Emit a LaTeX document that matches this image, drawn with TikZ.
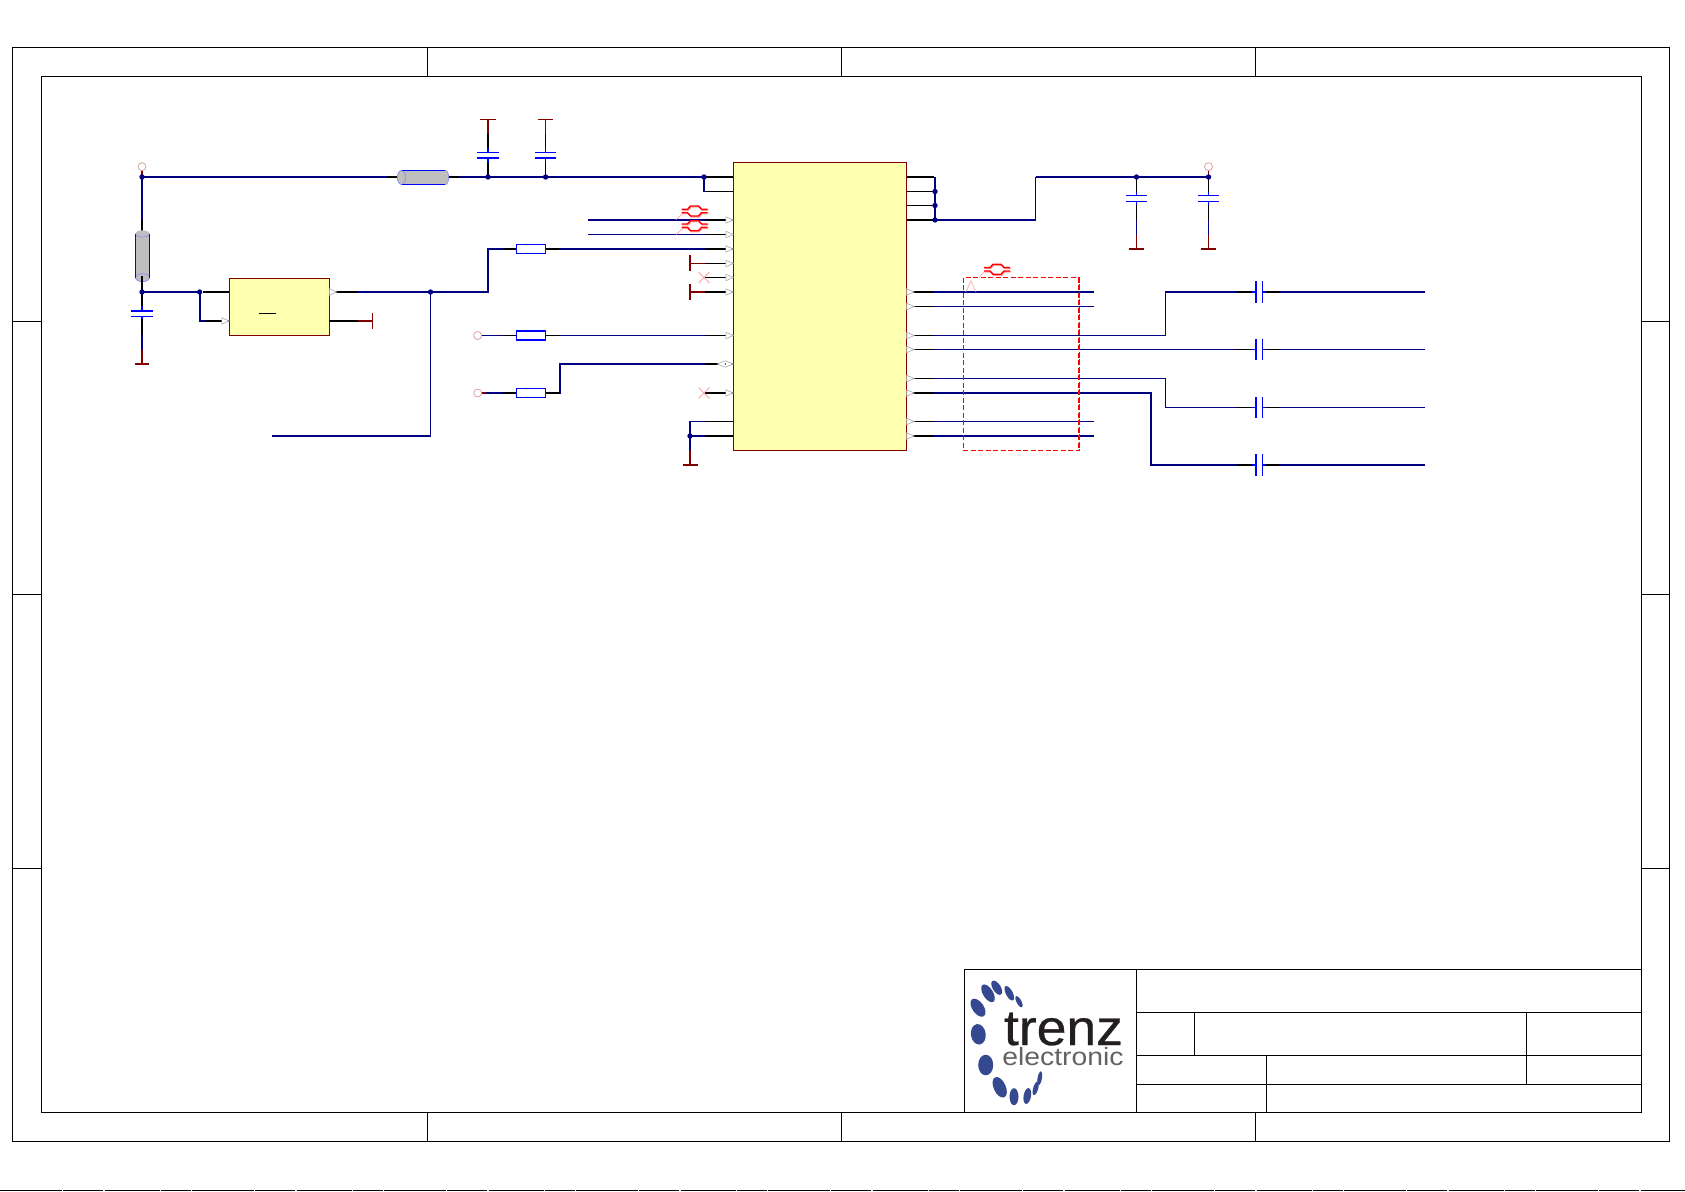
\documentclass[tikz,border=0pt]{standalone}
\usepackage{fontspec}
\setmainfont{Liberation Sans}
\newfontfamily\logofont[FakeBold=0.6]{Liberation Sans}
\usetikzlibrary{calc}
\definecolor{netc}{HTML}{000080}
\definecolor{dred}{HTML}{800000}
\definecolor{partb}{HTML}{0000FF}
\definecolor{paleb}{HTML}{8C8CFF}
\definecolor{pinkc}{HTML}{FFA8A8}
\definecolor{pwrc}{HTML}{E0A0A0}
\definecolor{boxy}{HTML}{FFFFB0}
\definecolor{beadg}{HTML}{BFBFBF}
\definecolor{logob}{HTML}{34498F}
\definecolor{logot}{HTML}{231F20}
\tikzset{
  frameline/.style={black,line width=1pt},
  nthick/.style={netc,line width=2pt},
  nthin/.style={netc,line width=1pt},
  lthick/.style={black,line width=2pt},
  lthin/.style={black,line width=1pt},
  icbox/.style={draw=dred,line width=1pt,fill=boxy,inner sep=0pt,outer sep=0pt},
  resbox/.style={draw=partb,line width=1.3pt,fill=white,minimum width=29pt,minimum height=9pt,inner sep=0pt,outer sep=0pt},
  pwrdot/.style={circle,draw=pwrc,line width=.8pt,fill=white,minimum size=8pt,inner sep=0pt,outer sep=0pt},
  pics/pinin/.style={code={\draw[gray!70,line width=.6pt,fill=white] (-7.5,-3.2) -- (0,0) -- (-7.5,3.2) -- cycle;}},
  pics/pinout/.style={code={\draw[gray!70,line width=.6pt,fill=white] (0,-3.2) -- (7.5,0) -- (0,3.2) -- cycle;}},
  pics/pinback/.style={code={\draw[gray!70,line width=.6pt,fill=white] (0,0) -- (-7.5,-3.2) -- (-7.5,3.2) -- cycle;}},
  pics/pinboth/.style={code={\draw[gray!70,line width=.6pt,fill=white] (-16,0) -- (-8,-3.2) -- (0,0) -- (-8,3.2) -- cycle; \fill[black] (-8,0) circle[radius=.8pt];}},
  pics/junc/.style={code={\fill[netc] (0,0) circle[radius=2.7pt];}},
  pics/nocon/.style={code={\draw[pinkc,line width=.8pt] (-5.5,-5.5) -- (5.5,5.5) (-5.5,5.5) -- (5.5,-5.5);}},
  pics/diffpair/.style={code={
    \foreach \dx/\dy/\c in {.8/.9/pinkc,0/0/red}{
      \begin{scope}[shift={(\dx,\dy)}]
      \draw[\c,line width=1.4pt] (-13,-1.7) -- (-7,-1.7) -- (-4,-5) -- (4,-5) -- (7,-1.7) -- (13,-1.7);
      \draw[\c,line width=1.4pt] (-13,1.7) -- (-7,1.7) -- (-4,5) -- (4,5) -- (7,1.7) -- (13,1.7);
      \end{scope}}
  }},
}
\begin{document}
\begin{tikzpicture}[x=1pt,y=-1pt]
\useasboundingbox (0,0) rectangle (1685,1191);
\fill[white] (0,0) rectangle (1685,1191);

% ---- sheet frame
\draw[frameline] (12.5,47.5) rectangle (1669.5,1141.5);
\draw[frameline] (41.5,76.5) rectangle (1641.5,1112.5);
\foreach \x in {427.5,841.5,1255.5}{
  \draw[frameline] (\x,47.5) -- (\x,76.5);
  \draw[frameline] (\x,1112.5) -- (\x,1141.5);
}
\foreach \y in {321.5,594.5,868.5}{
  \draw[frameline] (12.5,\y) -- (41.5,\y);
  \draw[frameline] (1641.5,\y) -- (1669.5,\y);
}
% ---- title block
\draw[frameline] (964.5,969.5) rectangle (1641.5,1112.5);
\draw[frameline] (1136.5,969.5) -- (1136.5,1112.5);
\draw[frameline] (1136.5,1012.5) -- (1641.5,1012.5);
\draw[frameline] (1136.5,1055.5) -- (1641.5,1055.5);
\draw[frameline] (1136.5,1084.5) -- (1641.5,1084.5);
\draw[frameline] (1194.5,1012.5) -- (1194.5,1055.5);
\draw[frameline] (1526.5,1012.5) -- (1526.5,1084.5);
\draw[frameline] (1266.5,1055.5) -- (1266.5,1112.5);
% logo
\foreach \x/\y/\r/\a/\b in {978/1007.7/-55/10.3/5.7, 988/993.3/-58/10/5, 996.7/987.7/-58/8/4, 1009.3/993.3/-62/8/3.4, 1019/1001.7/-62/6.5/2.4,
  978.3/1034.3/-82/10.3/7.4, 985.7/1065/-90/10.3/7.5, 999.7/1087.3/-65/11/6, 1014/1096.7/-90/8.5/4.5, 1027.3/1096/-100/8/3.7, 1035.7/1088.3/-106/7/2.5, 1039.7/1078.3/-100/7/2.2}{
  \fill[logob,shift={(\x,\y)},rotate=\r] (0,0) ellipse[x radius=\a pt,y radius=\b pt];
}
\node[anchor=base west,inner sep=0pt,outer sep=0pt,text=logot,font=\logofont\fontsize{50}{50}\selectfont] (logoa) at (1004,1045) {\scalebox{1.07}[1]{trenz}};
\node[anchor=base west,inner sep=0pt,outer sep=0pt,text=logot!70,font=\fontsize{24}{24}\selectfont] (logob) at (1002.3,1065.7) {\scalebox{1.18}[1.04]{electronic}};

% ---- page-edge line
\draw[black,line width=1pt,dash pattern=on 62pt off 1pt on 40pt off 1.5pt on 55pt off 1pt on 30pt off 1.5pt] (0,1190.5) -- (1685,1190.5);

% ---- named pin rows
\foreach \r/\yy in {1/177,2/191.5,3/205.5,4/220,5/234.5,6/249,7/263.5,8/277.5,9/292,10/306.5,11/321,12/335.5,13/349.5,14/364,15/378.5,16/393,17/407.5,18/421.5,19/436,20/450.5,21/465}{
  \coordinate (L\r) at (733.3,\yy);
  \coordinate (Lo\r) at (705,\yy);
  \coordinate (R\r) at (906.7,\yy);
  \coordinate (Ro\r) at (934,\yy);
}
\coordinate (JA) at (142,177);
\coordinate (JB) at (142,292);
\coordinate (JC) at (199.6,292);
\coordinate (JD) at (430.5,292);
\coordinate (JE) at (488,177);
\coordinate (JF) at (545.6,177);
\coordinate (JG) at (704,177);
\coordinate (JH) at (690,436);
\coordinate (JI) at (935,191.5);
\coordinate (JJ) at (935,205.5);
\coordinate (JK) at (935,220);
\coordinate (JL) at (1136.5,177);
\coordinate (JM) at (1208.5,177);
\coordinate (C1) at (1259,292);
\coordinate (C2) at (1259,349.5);
\coordinate (C3) at (1259,407.5);
\coordinate (C4) at (1259,465);
\coordinate (E1) at (1425,292);
\coordinate (E2) at (1425,349.5);
\coordinate (E3) at (1425,407.5);
\coordinate (E4) at (1425,465);
\coordinate (F1) at (1093.7,292);
\coordinate (F2) at (1093.7,306.5);
\coordinate (F3) at (1093.7,421.5);
\coordinate (F4) at (1093.7,436);
\coordinate (G1) at (588.4,220);
\coordinate (G2) at (588.4,234.5);
\coordinate (H1) at (271.6,436);
\coordinate (H2) at (430.5,436);
\coordinate (UA) at (229.3,292);
\coordinate (UB) at (229.3,321);
\coordinate (UC) at (329.3,292);
\coordinate (UD) at (329.3,321);

% ---- resistors, boxes, power points
\node[icbox,minimum width=173.4pt,minimum height=288pt] (U1) at (820,306.3) {};
\node[icbox,minimum width=100pt,minimum height=57pt] (U2) at (279.3,306.8) {};
\node[pwrdot] (P1) at (142,166.7) {};
\node[pwrdot] (P2) at (1208.5,166.7) {};
\node[pwrdot] (P3) at (477.7,335.5) {};
\node[pwrdot] (P4) at (477.7,393) {};
\draw[black,line width=1pt] (259.3,313.5) -- (276,313.5);

% ---- nets
\draw[nthick] (JA) -- (Lo1);
\draw[nthick] (JG) -- (704,191.5);
\draw[nthick] (JA) -- (142,222);
\draw[nthick] (JB) -- (JC);
\draw[nthick] (JC) -- (199.6,321) -- (206,321);
\draw[nthick] (358,292) -- (JD) -- (488,292) -- (488,249) -- (504,249);
\draw[nthick] (559.4,249) -- (Lo6);
\draw[nthin] (JD) -- (H2);
\draw[nthick] (H2) -- (H1);
\draw[nthick] (G1) -- (Lo4);
\draw[nthin] (G2) -- (Lo5);
\draw[nthin] (P3) -- (503,335.5);
\draw[nthin] (559.4,335.5) -- (Lo12);
\draw[nthick] (P4) -- (503,393);
\draw[nthick,line join=miter] (558.5,393) -- (559.6,393) -- (559.6,364) -- (Lo14);
\draw[nthick] (690,421) -- (690,450);
\draw[nthin] (690,421.5) -- (Lo18);
\draw[nthick] (JH) -- (Lo19);
% right side
\draw[line width=2.2pt,netc] (935,177) -- (JK);
\draw[nthick] (JK) -- (1035.5,220);
\draw[netc,line width=1.3pt] (1035.5,220) -- (1035.5,177);
\draw[nthick] (1035.5,177) -- (JM);
\draw[nthick] (Ro9) -- (F1);
\draw[nthin] (Ro10) -- (F2);
\draw[nthick] (Ro19) -- (F4);
\draw[nthin] (Ro18) -- (F3);
\draw[nthin] (Ro12) -- (1165.5,335.5) -- (1165.5,292);
\draw[nthick] (1165,292) -- (1237,292);
\draw[nthin] (Ro13) -- (1237,349.5);
\draw[nthin] (Ro15) -- (1165.5,378.5) -- (1165.5,407.5) -- (1237,407.5);
\draw[nthick] (Ro16) -- (1151,393) -- (1151,465) -- (1237,465);
\draw[nthick] (1280,292) -- (E1);
\draw[nthin] (1280,349.5) -- (E2);
\draw[nthin] (1280,407.5) -- (E3);
\draw[nthick] (1280,465) -- (E4);

% ---- black part leads
\foreach \r/\w in {1/2,2/1,4/2,5/1,6/2,7/1,8/1,9/2,12/1,18/1,19/2}{
  \draw[black,line width=\w pt] (Lo\r) -- (L\r);
}
\draw[lthick] (Lo14) -- (L14);
\draw[lthick] (704,393) -- (L16);
\foreach \r/\w in {1/2,2/1,3/1,4/2,9/2,10/1,12/1,13/1,15/1,16/2,18/1,19/2}{
  \draw[black,line width=\w pt] (R\r) -- (Ro\r);
}
\draw[lthick] (387,177) -- (398,177);
\draw[lthick] (448,177) -- (459,177);
\draw[lthick] (142,220) -- (142,232);
\draw[lthick] (142,276) -- (142,306);
\draw[lthick] (203,292) -- (UA);
\draw[lthick] (206,321) -- (UB);
\draw[lthick] (UC) -- (358,292);
\draw[lthick] (UD) -- (358,321);
\draw[dred,line width=2pt] (358,321) -- (372,321);
\draw[dred,line width=1pt] (372.5,313.3) -- (372.5,329);
\draw[lthick] (504,249) -- (518,249);
\draw[lthick] (544,249) -- (559.4,249);
\draw[lthin] (503,335.5) -- (518,335.5);
\draw[lthin] (544,335.5) -- (559.4,335.5);
\draw[lthick] (503,393) -- (518,393);
\draw[lthick] (544,393) -- (559.6,393);
\draw[dred,line width=2pt] (P4.east) -- (486,393);
\node[resbox] (R1) at (531.2,249) {};
\node[resbox] (R2) at (531.2,335.5) {};
\node[resbox] (R3) at (531.2,393) {};

% ---- grounded pins, no-connects
\draw[dred,line width=1pt] (690,263.5) -- (705,263.5);
\draw[dred,line width=1.4pt] (690,255.4) -- (690,271.2);
\draw[dred,line width=2pt] (690,292) -- (705,292);
\draw[dred,line width=1.4pt] (690,284.2) -- (690,300);
\pic at (704,277.5) {nocon};
\pic at (704,393) {nocon};
\draw[dred,line width=2pt] (690,450) -- (690,465);
\draw[dred,line width=2pt] (682.5,465) -- (697.5,465);

% ---- bead 1 (horizontal)
\fill[beadg] (401.5,170.5) rectangle (445.3,184.5);
\fill[beadg] (445.3,177.5) ellipse[x radius=3.4pt,y radius=7pt];
\draw[paleb,line width=.7pt,fill=beadg] (401.5,177.5) ellipse[x radius=4.2pt,y radius=7pt];
\draw[paleb,line width=.7pt] (445.3,170.5) arc[start angle=-90,end angle=90,x radius=3.4pt,y radius=-7pt];
\draw[partb,line width=1pt] (401.5,170.5) -- (445.3,170.5) (401.5,184.5) -- (445.3,184.5);
% ---- bead 2 (vertical)
\fill[beadg] (135.5,233.7) rectangle (149.5,277.7);
\fill[beadg] (142.5,233.7) ellipse[x radius=7pt,y radius=3.4pt];
\draw[paleb,line width=.7pt] (135.5,233.7) arc[start angle=180,end angle=0,x radius=7pt,y radius=-3.4pt];
\draw[paleb,line width=.7pt,fill=beadg] (142.5,277.7) ellipse[x radius=7pt,y radius=4pt];
\draw[partb,line width=1pt] (135.5,233.7) -- (135.5,277.7) (149.5,233.7) -- (149.5,277.7);
\draw[lthick] (142,276) -- (142,281.7);

% ---- capacitors to the top rail
\foreach \x/\w in {488/2,545.5/1}{
  \draw[dred,line width=\w pt] (\x,119.5) -- (\x,134);
  \draw[black,line width=\w pt] (\x,134) -- (\x,148);
  \draw[partb,line width=\w pt] (\x,148) -- (\x,152.5);
  \draw[partb,line width=\w pt] (\x,157.7) -- (\x,163);
  \draw[black,line width=\w pt] (\x,163) -- (\x,177);
  \draw[dred,line width=1pt] (\x-7.7,119.5) -- (\x+7.7,119.5);
  \draw[partb,line width=1pt] (\x-10.7,152.5) -- (\x+10.7,152.5);
  \draw[partb,line width=2pt] (\x-10.7,158) -- (\x+10.7,158);
}
% ---- capacitor at the regulator input
\draw[partb,line width=2pt] (142,306) -- (142,311);
\draw[partb,line width=2pt] (142,316) -- (142,319);
\draw[black,line width=2pt] (142,319) -- (142,335);
\draw[netc,line width=2pt] (142,335) -- (142,350);
\draw[dred,line width=2pt] (142,350) -- (142,364);
\draw[dred,line width=2pt] (135,364) -- (149,364);
\draw[partb,line width=2pt] (131.3,311) -- (152.7,311);
\draw[partb,line width=1pt] (131.3,316.5) -- (152.7,316.5);
% ---- output capacitors
\foreach \x in {1136.5,1208.5}{
  \draw[lthin] (\x,177) -- (\x,192);
  \draw[partb,line width=1pt] (\x,192) -- (\x,205);
  \draw[lthin] (\x,205) -- (\x,220);
  \draw[nthin] (\x,220) -- (\x,235);
  \draw[dred,line width=1pt] (\x,235) -- (\x,248.7);
  \draw[dred,line width=2pt] (\x-7.7,249) -- (\x+7.7,249);
  \draw[white,line width=5pt] (\x-6,198.3) -- (\x+6,198.3);
  \draw[partb,line width=1pt] (\x-10.7,195.5) -- (\x+10.7,195.5);
  \draw[partb,line width=1pt] (\x-10.7,201.5) -- (\x+10.7,201.5);
}
\draw[dred,line width=1pt] (P2.south) -- (JM);
\draw[dred,line width=1.5pt] (P1.south) -- (JA);
% ---- series capacitors
\foreach \i/\w in {1/2,2/1,3/1,4/2}{
  \draw[black,line width=\w pt] ($(C\i)+(-22,0)$) -- ($(C\i)+(-7,0)$);
  \draw[black,line width=\w pt] ($(C\i)+(7,0)$) -- ($(C\i)+(21,0)$);
  \draw[partb,line width=\w pt] ($(C\i)+(-7,0)$) -- ($(C\i)+(-3.3,0)$);
  \draw[partb,line width=\w pt] ($(C\i)+(3.3,0)$) -- ($(C\i)+(7,0)$);
  \draw[partb,line width=1.6pt] ($(C\i)+(-3.3,-10.7)$) -- ($(C\i)+(-3.3,10.7)$);
  \draw[partb,line width=1.6pt] ($(C\i)+(3.3,-10.7)$) -- ($(C\i)+(3.3,10.7)$);
}

% ---- junctions
\foreach \j in {JA,JB,JC,JD,JE,JF,JG,JH,JI,JJ,JK,JL,JM}{
  \pic at (\j) {junc};
}

% ---- pin marks
\foreach \r in {4,5,6,7,8,9,12}{ \pic at (L\r) {pinin}; }
\pic at (L14) {pinboth};
\pic at (L16) {pinback};
\pic at (UB) {pinin};
\pic at (UC) {pinout};
\foreach \r in {9,10,12,13,15,16,18,19}{ \pic at (R\r) {pinout}; }

% ---- differential pair marks and placement region
\draw[red,line width=1pt,dash pattern=on 5pt off 2.5pt] (963.5,277.5) rectangle (1079,450.5);
\draw[red,line width=1.6pt,dash pattern=on 5pt off 2.5pt] (1079,277.5) -- (1079,450.5);
\draw[pinkc,line width=.7pt] (965.7,292) -- (971,281) -- (976,292);
\draw[pinkc,line width=.7pt] (676,219.5) -- (684,212.5);
\draw[pinkc,line width=.7pt] (676,234.5) -- (684,227.5);
\draw[pinkc,line width=.7pt] (979,277.3) -- (985,271);
\pic at (694.5,211) {diffpair};
\pic at (694.5,225.7) {diffpair};
\pic at (997,269.3) {diffpair};
\end{tikzpicture}
\end{document}
